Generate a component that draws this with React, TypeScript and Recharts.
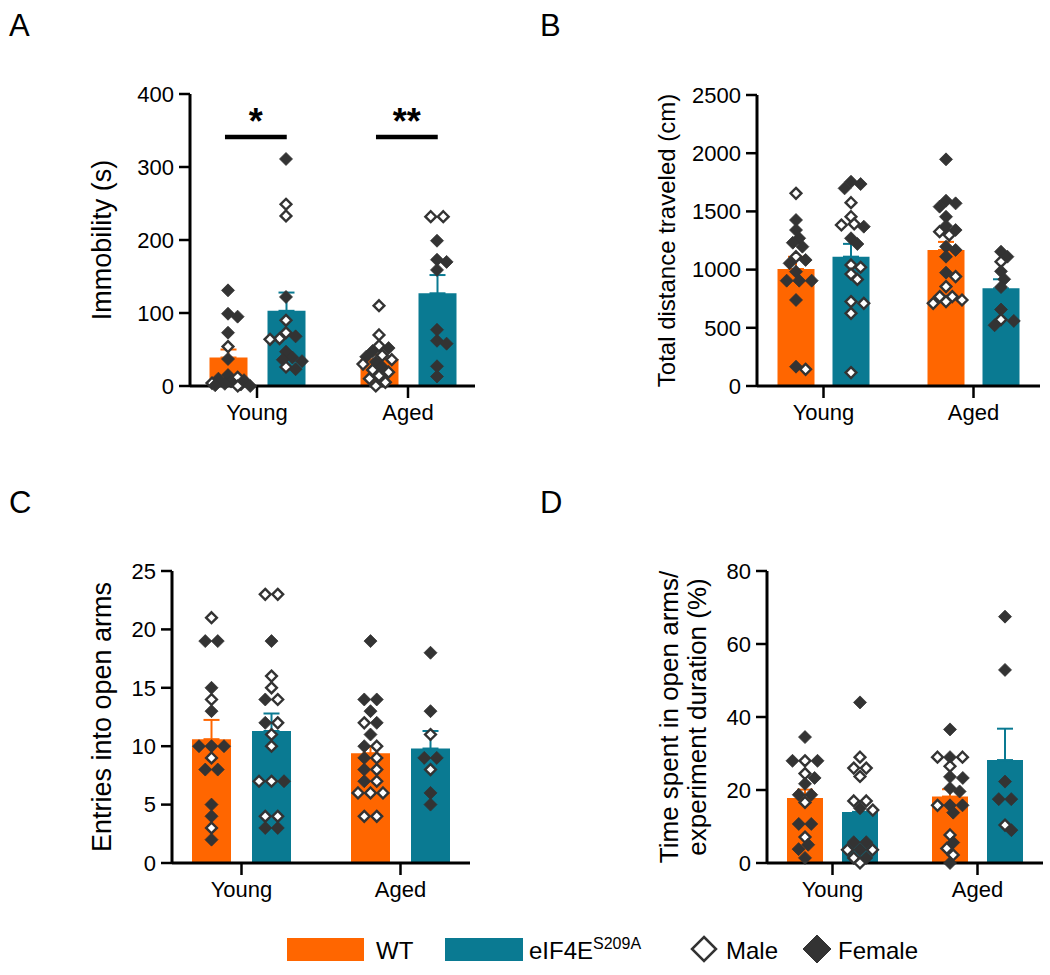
import React from "react";
import {
  ComposedChart,
  Bar,
  Scatter,
  XAxis,
  YAxis,
  ErrorBar,
  ReferenceLine,
  Label,
} from "recharts";

type Sex = "M" | "F";
type Pt = [number, Sex];

const groups = ["Young", "Aged"];

// A - immobility (s)
const immobilityWT = [39, 37];
const immobilityWTSem = [11, 6];
const immobilityMut = [103, 127];
const immobilityMutSem = [25, 25];
const immobilityYoungWT: Pt[] = [
  [131, "F"], [99, "F"], [95, "F"], [73, "F"], [54, "M"], [37, "F"], [15, "F"],
  [12, "M"], [10, "F"], [8, "F"], [6, "F"], [4, "M"], [3, "F"], [2, "F"], [1, "F"],
  [0, "M"], [0, "F"],
];
const immobilityYoungMut: Pt[] = [
  [311, "F"], [249, "M"], [233, "M"], [122, "F"], [90, "M"], [73, "M"], [68, "F"],
  [65, "M"], [64, "M"], [47, "F"], [39, "F"], [36, "F"], [34, "F"], [26, "M"], [23, "F"],
];
const immobilityAgedWT: Pt[] = [
  [110, "M"], [70, "M"], [55, "M"], [52, "F"], [48, "F"], [42, "M"], [40, "F"], [36, "M"],
  [33, "F"], [30, "M"], [26, "F"], [22, "M"], [19, "M"], [14, "M"], [10, "M"], [5, "M"], [0, "M"],
];
const immobilityAgedMut: Pt[] = [
  [232, "M"], [232, "M"], [199, "F"], [173, "F"], [170, "F"], [159, "F"], [77, "F"],
  [62, "F"], [58, "F"], [27, "F"], [13, "F"],
];
const immobilitySig = ["*", "**"];
const immobilitySigLevel = 341;

// B - total distance traveled (cm)
const distanceWT = [1005, 1168];
const distanceWTSem = [105, 70];
const distanceMut = [1111, 839];
const distanceMutSem = [110, 78];
const distanceYoungWT: Pt[] = [
  [1655, "M"], [1426, "F"], [1340, "F"], [1269, "F"], [1231, "F"], [1197, "F"], [1111, "M"],
  [1083, "F"], [1054, "F"], [982, "F"], [905, "F"], [905, "F"], [905, "F"], [739, "F"],
  [166, "F"], [143, "M"],
];
const distanceYoungMut: Pt[] = [
  [1755, "F"], [1735, "F"], [1698, "F"], [1575, "M"], [1455, "M"], [1392, "M"], [1383, "M"],
  [1369, "F"], [1269, "F"], [1220, "F"], [1040, "M"], [1020, "M"], [962, "M"], [916, "M"],
  [725, "M"], [710, "M"], [624, "M"], [115, "M"],
];
const distanceAgedWT: Pt[] = [
  [1947, "F"], [1592, "F"], [1569, "F"], [1541, "F"], [1454, "F"], [1375, "F"], [1340, "F"],
  [1326, "M"], [1297, "M"], [1197, "F"], [1169, "F"], [1111, "F"], [974, "F"], [940, "M"],
  [854, "M"], [768, "M"], [768, "M"], [739, "M"], [725, "M"], [710, "M"],
];
const distanceAgedMut: Pt[] = [
  [1154, "F"], [1111, "F"], [1068, "M"], [985, "F"], [917, "F"], [850, "F"], [657, "F"],
  [571, "M"], [559, "F"], [522, "F"],
];

// C - entries into open arms
const entriesWT = [10.6, 9.4];
const entriesWTSem = [1.65, 0.6];
const entriesMut = [11.3, 9.8];
const entriesMutSem = [1.5, 1.5];
const entriesYoungWT: Pt[] = [
  [21, "M"], [19, "F"], [19, "F"], [15, "F"], [14, "M"], [13, "F"], [10, "F"], [10, "F"],
  [10, "F"], [9, "M"], [8, "F"], [8, "F"], [5, "F"], [4, "F"], [3, "M"], [2, "F"],
];
const entriesYoungMut: Pt[] = [
  [23, "M"], [23, "M"], [19, "F"], [16, "M"], [15, "M"], [14, "F"], [14, "M"], [12, "F"],
  [12, "M"], [11, "M"], [10, "M"], [7, "M"], [7, "M"], [7, "F"], [4, "M"], [4, "M"],
  [3, "F"], [3, "F"],
];
const entriesAgedWT: Pt[] = [
  [19, "F"], [14, "F"], [14, "F"], [13, "F"], [12, "M"], [12, "F"], [11, "F"], [10, "F"],
  [10, "M"], [9, "F"], [9, "M"], [8, "F"], [8, "M"], [7, "F"], [7, "M"], [6, "M"], [6, "M"],
  [6, "M"], [4, "M"], [4, "M"],
];
const entriesAgedMut: Pt[] = [
  [18, "F"], [13, "F"], [11, "M"], [9, "F"], [9, "F"], [8, "M"], [6, "F"], [5, "F"],
];

// D - time in open arms (% of session)
const timeWT = [17.8, 18.2];
const timeWTSem = [2.3, 2.0];
const timeMut = [14.0, 28.2];
const timeMutSem = [2.9, 8.6];
const timeYoungWT: Pt[] = [
  [34.5, "F"], [28, "F"], [28, "M"], [28, "F"], [24.5, "M"], [23.3, "F"], [21.7, "F"],
  [18.7, "F"], [18.7, "F"], [16.6, "M"], [10.7, "F"], [10.7, "F"], [7.1, "M"], [5, "F"],
  [3.8, "F"], [1.4, "F"],
];
const timeYoungMut: Pt[] = [
  [44, "F"], [29, "M"], [26, "M"], [26, "M"], [23.7, "M"], [17, "M"], [17, "M"], [15, "F"],
  [14.5, "M"], [5.7, "F"], [5.7, "F"], [3.6, "M"], [3.6, "F"], [3.6, "M"], [1.4, "M"],
  [1.4, "F"], [0, "M"],
];
const timeAgedWT: Pt[] = [
  [36.6, "F"], [29, "M"], [29, "F"], [29, "M"], [26.5, "M"], [23.6, "F"], [23.3, "F"],
  [20.5, "F"], [19.6, "F"], [15.8, "M"], [15.8, "F"], [15.8, "F"], [13.8, "F"], [7.7, "M"],
  [5.6, "F"], [4, "M"], [2.2, "M"], [0, "F"],
];
const timeAgedMut: Pt[] = [
  [67.5, "F"], [52.9, "F"], [22.3, "F"], [17.5, "F"], [17.5, "F"], [10.4, "M"], [9, "F"],
];

const font = "'Liberation Sans', Arial, Helvetica, sans-serif";
const WT_COLOR = "#FF6600";
const MUT_COLOR = "#0A7A92";
const DOT = "#333333";

// simple beeswarm: ties go in a centred row, others get pushed sideways on overlap
function swarm(pts: Pt[], pxPerUnit: number): number[] {
  const W = 12.5;
  const H = 9;
  const STEP = 3.2;
  const MAXK = 5;
  const out = new Array(pts.length).fill(0);
  const order = pts.map((_, i) => i).sort((a, b) => pts[b][0] - pts[a][0]);
  const placed: { x: number; y: number }[] = [];
  const cost = (x: number, y: number) => {
    let c = 0;
    for (const q of placed) {
      const d = Math.abs(q.x - x) / W + Math.abs(q.y - y) / H;
      if (d < 1) c += 1 - d;
    }
    return c;
  };
  let i = 0;
  while (i < order.length) {
    let j = i;
    while (j < order.length && pts[order[j]][0] === pts[order[i]][0]) j++;
    const n = j - i;
    const y = pts[order[i]][0] * pxPerUnit;
    let best: number[] = [];
    let bestCost = Infinity;
    search: for (let k = 0; k <= MAXK; k++) {
      for (const sgn of k === 0 ? [1] : [1, -1]) {
        const c = sgn * k * STEP;
        const xs = Array.from({ length: n }, (_, m) => c + (m - (n - 1) / 2) * W);
        const cst = xs.reduce((s, x) => s + cost(x, y), 0);
        if (cst < bestCost - 1e-9) {
          bestCost = cst;
          best = xs;
        }
        if (cst === 0) break search;
      }
    }
    best.forEach((x, m) => {
      out[order[i + m]] = x;
      placed.push({ x, y });
    });
    i = j;
  }
  return out;
}

const renderDot = (props: any) => {
  const { cx, cy, payload } = props;
  if (cx == null || cy == null) return <g />;
  const male = payload.sex === "M";
  const r = male ? 5.4 : 6.5;
  const pts = `${cx},${cy - r} ${cx + r},${cy} ${cx},${cy + r} ${cx - r},${cy}`;
  return male ? (
    <polygon points={pts} fill="#fff" stroke={DOT} strokeWidth={2.4} />
  ) : (
    <polygon points={pts} fill={DOT} stroke={DOT} strokeWidth={0.8} />
  );
};

interface PanelProps {
  box: { left: number; top: number; width: number; height: number };
  plot: { x0: number; x1: number; y0: number; y1: number };
  band: number;
  barSize: number;
  barGap: number;
  yMax: number;
  yTicks: number[];
  yLabel: { text: string; x: number; size: number }[];
  wt: number[];
  wtSem: number[];
  mut: number[];
  mutSem: number[];
  wtPts: Pt[][];
  mutPts: Pt[][];
  sig?: string[];
  sigLevel?: number;
}

const YW = 80;
const XH = 50;

const Panel: React.FC<PanelProps> = (p) => {
  const { box, plot } = p;
  const plotW = plot.x1 - plot.x0;
  const plotH = plot.y1 - plot.y0;
  const pad = (plotW - 2 * p.band) / 2;
  const off = (p.barSize + p.barGap) / 2 / p.band;
  const pxPerUnit = plotH / p.yMax;

  const rows = groups.map((g, i) => ({
    cat: g,
    wt: p.wt[i],
    wtErr: [0, p.wtSem[i]],
    mut: p.mut[i],
    mutErr: [0, p.mutSem[i]],
  }));

  const dots: { x: number; y: number; sex: Sex }[] = [];
  groups.forEach((_, gi) => {
    const sets: [Pt[], number][] = [
      [p.wtPts[gi], -1],
      [p.mutPts[gi], 1],
    ];
    sets.forEach(([pts, side]) => {
      const dx = swarm(pts, pxPerUnit);
      pts.forEach(([v, sex], k) =>
        dots.push({ x: gi + side * off + dx[k] / p.band, y: v, sex })
      );
    });
  });

  const axisLine = { stroke: "#000", strokeWidth: 3 };
  const tickLine = { stroke: "#000", strokeWidth: 2.5 };

  return (
    <div style={{ position: "absolute", left: box.left, top: box.top }}>
      <ComposedChart
        width={box.width}
        height={box.height}
        data={rows}
        barGap={p.barGap}
        margin={{
          top: plot.y0 - box.top,
          right: box.left + box.width - plot.x1,
          bottom: box.top + box.height - plot.y1 - XH,
          left: plot.x0 - box.left - YW,
        }}
      >
        <XAxis
          xAxisId="cat"
          dataKey="cat"
          type="category"
          height={XH}
          padding={{ left: pad, right: pad }}
          axisLine={axisLine}
          tickLine={tickLine}
          tickSize={12}
          tickMargin={6}
          interval={0}
          tick={{ fill: "#000", fontSize: 22, fontFamily: font }}
        />
        <XAxis
          xAxisId="num"
          dataKey="x"
          type="number"
          domain={[-0.5, 1.5]}
          padding={{ left: pad, right: pad }}
          hide
        />
        <YAxis
          type="number"
          domain={[0, p.yMax]}
          ticks={p.yTicks}
          interval={0}
          width={YW}
          axisLine={axisLine}
          tickLine={tickLine}
          tickSize={11}
          tickMargin={5}
          tick={{ fill: "#000", fontSize: 22, fontFamily: font }}
        >
          {p.yLabel.map((l, i) => (
            <Label
              key={i}
              value={l.text}
              angle={-90}
              position="center"
              dx={l.x - plot.x0 + YW / 2}
              fontSize={l.size}
              fontFamily={font}
              fill="#000"
            />
          ))}
        </YAxis>
        <Bar xAxisId="cat" dataKey="wt" fill={WT_COLOR} barSize={p.barSize} isAnimationActive={false}>
          <ErrorBar dataKey="wtErr" direction="y" width={8} stroke={WT_COLOR} strokeWidth={2} />
        </Bar>
        <Bar xAxisId="cat" dataKey="mut" fill={MUT_COLOR} barSize={p.barSize} isAnimationActive={false}>
          <ErrorBar dataKey="mutErr" direction="y" width={8} stroke={MUT_COLOR} strokeWidth={2} />
        </Bar>
        <Scatter
          xAxisId="num"
          data={dots}
          dataKey="y"
          shape={renderDot}
          isAnimationActive={false}
        />
        {p.sig &&
          p.sig.map((s, gi) => (
            <ReferenceLine
              key={gi}
              xAxisId="num"
              segment={[
                { x: gi - off - 0.02, y: p.sigLevel },
                { x: gi + off + 0.005, y: p.sigLevel },
              ]}
              stroke="#000"
              strokeWidth={4.5}
              label={
                <Label
                  value={s}
                  position="top"
                  offset={3}
                  fontSize={36}
                  fontWeight="bold"
                  fontFamily={font}
                  fill="#000"
                />
              }
            />
          ))}
      </ComposedChart>
    </div>
  );
};

const Overlay = () => (
  <svg
    width={1050}
    height={975}
    style={{ position: "absolute", left: 0, top: 0 }}
    fontFamily={font}
  >
    <text x={9} y={36} fontSize={31} fill="#000">A</text>
    <text x={540} y={36} fontSize={31} fill="#000">B</text>
    <text x={9} y={513} fontSize={31} fill="#000">C</text>
    <text x={540} y={513} fontSize={31} fill="#000">D</text>

    <rect x={287} y={938} width={77} height={23} fill={WT_COLOR} />
    <text x={376} y={959} fontSize={24} fill="#000">WT</text>
    <rect x={445} y={938} width={78} height={23} fill={MUT_COLOR} />
    <text x={529} y={959} fontSize={24} fill="#000">
      eIF4E
      <tspan fontSize={16} dy={-10}>S209A</tspan>
    </text>
    <polygon points="704,937 716,949 704,961 692,949" fill="#fff" stroke={DOT} strokeWidth={2.5} />
    <text x={726} y={959} fontSize={24} fill="#000">Male</text>
    <polygon points="817,935 831,949 817,963 803,949" fill={DOT} stroke={DOT} strokeWidth={1} />
    <text x={838} y={959} fontSize={24} fill="#000">Female</text>
  </svg>
);

export default function App() {
  return (
    <div
      style={{
        position: "absolute",
        left: 0,
        top: 0,
        width: 1050,
        height: 975,
        background: "#fff",
      }}
    >
      <Overlay />
      <Panel
        box={{ left: 0, top: 0, width: 525, height: 460 }}
        plot={{ x0: 190, x1: 475, y0: 94, y1: 386 }}
        band={151}
        barSize={38}
        barGap={20}
        yMax={400}
        yTicks={[0, 100, 200, 300, 400]}
        yLabel={[{ text: "Immobility (s)", x: 101, size: 27 }]}
        wt={immobilityWT}
        wtSem={immobilityWTSem}
        mut={immobilityMut}
        mutSem={immobilityMutSem}
        wtPts={[immobilityYoungWT, immobilityAgedWT]}
        mutPts={[immobilityYoungMut, immobilityAgedMut]}
        sig={immobilitySig}
        sigLevel={immobilitySigLevel}
      />
      <Panel
        box={{ left: 525, top: 0, width: 525, height: 460 }}
        plot={{ x0: 757, x1: 1040, y0: 95, y1: 386 }}
        band={150}
        barSize={37}
        barGap={18}
        yMax={2500}
        yTicks={[0, 500, 1000, 1500, 2000, 2500]}
        yLabel={[{ text: "Total distance traveled (cm)", x: 666, size: 24 }]}
        wt={distanceWT}
        wtSem={distanceWTSem}
        mut={distanceMut}
        mutSem={distanceMutSem}
        wtPts={[distanceYoungWT, distanceAgedWT]}
        mutPts={[distanceYoungMut, distanceAgedMut]}
      />
      <Panel
        box={{ left: 0, top: 460, width: 525, height: 460 }}
        plot={{ x0: 172, x1: 470, y0: 571, y1: 863 }}
        band={159}
        barSize={39}
        barGap={21}
        yMax={25}
        yTicks={[0, 5, 10, 15, 20, 25]}
        yLabel={[{ text: "Entries into open arms", x: 101, size: 27 }]}
        wt={entriesWT}
        wtSem={entriesWTSem}
        mut={entriesMut}
        mutSem={entriesMutSem}
        wtPts={[entriesYoungWT, entriesAgedWT]}
        mutPts={[entriesYoungMut, entriesAgedMut]}
      />
      <Panel
        box={{ left: 525, top: 460, width: 525, height: 460 }}
        plot={{ x0: 767, x1: 1043, y0: 571, y1: 863 }}
        band={145}
        barSize={36}
        barGap={19}
        yMax={80}
        yTicks={[0, 20, 40, 60, 80]}
        yLabel={[
          { text: "Time spent in open arms/", x: 669, size: 26 },
          { text: "experiment duration (%)", x: 697, size: 26 },
        ]}
        wt={timeWT}
        wtSem={timeWTSem}
        mut={timeMut}
        mutSem={timeMutSem}
        wtPts={[timeYoungWT, timeAgedWT]}
        mutPts={[timeYoungMut, timeAgedMut]}
      />
    </div>
  );
}
